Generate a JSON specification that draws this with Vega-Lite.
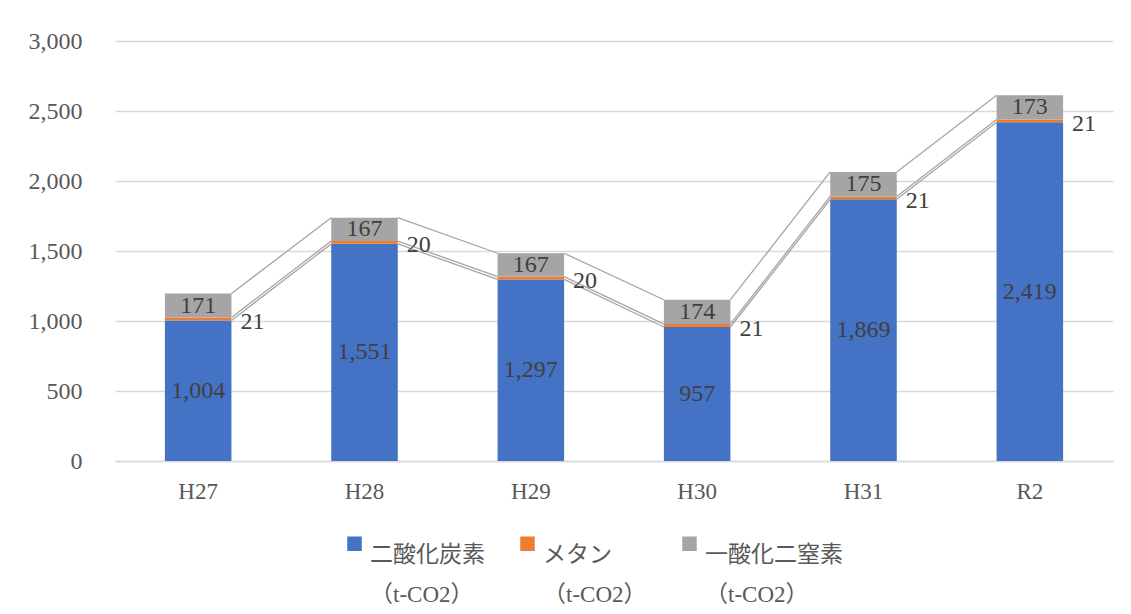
{
  "$schema": "https://vega.github.io/schema/vega-lite/v6.json",
  "autosize": {"type": "none"},
  "width": 998,
  "height": 420,
  "padding": {"left": 115, "top": 41, "right": 18, "bottom": 153},
  "background": "#ffffff",
  "config": {
    "font": "Liberation Serif, Noto Sans CJK JP, serif",
    "view": {"stroke": null},
    "style": {"guide-label": {"lineHeight": 40}}
  },
  "datasets": {
    "gas": [
      {"year": "H27", "gas": "二酸化炭素（t-CO2）", "ord": 1, "value": 1004},
      {"year": "H27", "gas": "メタン（t-CO2）", "ord": 2, "value": 21},
      {"year": "H27", "gas": "一酸化二窒素（t-CO2）", "ord": 3, "value": 171},
      {"year": "H28", "gas": "二酸化炭素（t-CO2）", "ord": 1, "value": 1551},
      {"year": "H28", "gas": "メタン（t-CO2）", "ord": 2, "value": 20},
      {"year": "H28", "gas": "一酸化二窒素（t-CO2）", "ord": 3, "value": 167},
      {"year": "H29", "gas": "二酸化炭素（t-CO2）", "ord": 1, "value": 1297},
      {"year": "H29", "gas": "メタン（t-CO2）", "ord": 2, "value": 20},
      {"year": "H29", "gas": "一酸化二窒素（t-CO2）", "ord": 3, "value": 167},
      {"year": "H30", "gas": "二酸化炭素（t-CO2）", "ord": 1, "value": 957},
      {"year": "H30", "gas": "メタン（t-CO2）", "ord": 2, "value": 21},
      {"year": "H30", "gas": "一酸化二窒素（t-CO2）", "ord": 3, "value": 174},
      {"year": "H31", "gas": "二酸化炭素（t-CO2）", "ord": 1, "value": 1869},
      {"year": "H31", "gas": "メタン（t-CO2）", "ord": 2, "value": 21},
      {"year": "H31", "gas": "一酸化二窒素（t-CO2）", "ord": 3, "value": 175},
      {"year": "R2", "gas": "二酸化炭素（t-CO2）", "ord": 1, "value": 2419},
      {"year": "R2", "gas": "メタン（t-CO2）", "ord": 2, "value": 21},
      {"year": "R2", "gas": "一酸化二窒素（t-CO2）", "ord": 3, "value": 173}
    ],
    "lines": [
      {"from": "H27", "to": "H28", "s": "a", "y1": 1004, "y2": 1551},
      {"from": "H28", "to": "H29", "s": "a", "y1": 1551, "y2": 1297},
      {"from": "H29", "to": "H30", "s": "a", "y1": 1297, "y2": 957},
      {"from": "H30", "to": "H31", "s": "a", "y1": 957, "y2": 1869},
      {"from": "H31", "to": "R2", "s": "a", "y1": 1869, "y2": 2419},
      {"from": "H27", "to": "H28", "s": "b", "y1": 1025, "y2": 1571},
      {"from": "H28", "to": "H29", "s": "b", "y1": 1571, "y2": 1317},
      {"from": "H29", "to": "H30", "s": "b", "y1": 1317, "y2": 978},
      {"from": "H30", "to": "H31", "s": "b", "y1": 978, "y2": 1890},
      {"from": "H31", "to": "R2", "s": "b", "y1": 1890, "y2": 2440},
      {"from": "H27", "to": "H28", "s": "c", "y1": 1196, "y2": 1738},
      {"from": "H28", "to": "H29", "s": "c", "y1": 1738, "y2": 1484},
      {"from": "H29", "to": "H30", "s": "c", "y1": 1484, "y2": 1152},
      {"from": "H30", "to": "H31", "s": "c", "y1": 1152, "y2": 2065},
      {"from": "H31", "to": "R2", "s": "c", "y1": 2065, "y2": 2613}
    ]
  },
  "resolve": {"scale": {"x": "shared", "y": "shared"}},
  "layer": [
    {
      "data": {"name": "gas"},
      "mark": {"type": "bar"},
      "encoding": {
        "x": {
          "field": "year", "type": "nominal",
          "scale": {"domain": ["H27", "H28", "H29", "H30", "H31", "R2"], "paddingInner": 0.6, "paddingOuter": 0.3},
          "axis": {"title": null, "labelAngle": 0, "ticks": false, "labelPadding": 19, "labelFontSize": 23, "labelColor": "#595959", "domainColor": "#D9D9D9", "domainWidth": 1.3}
        },
        "y": {
          "aggregate": "sum", "field": "value", "type": "quantitative", "stack": "zero",
          "scale": {"domain": [0, 3000]},
          "axis": {"title": null, "values": [0, 500, 1000, 1500, 2000, 2500, 3000], "format": ",d", "ticks": false, "domain": false, "labelPadding": 33, "labelFontSize": 24, "labelColor": "#595959", "gridColor": "#D9D9D9", "gridWidth": 1.3}
        },
        "color": {
          "field": "gas", "type": "nominal",
          "scale": {"domain": ["二酸化炭素（t-CO2）", "メタン（t-CO2）", "一酸化二窒素（t-CO2）"], "range": ["#4472C4", "#ED7D31", "#A5A5A5"]},
          "legend": {
            "title": null, "orient": "none", "direction": "horizontal", "legendX": 228, "legendY": 491,
            "symbolType": "square", "symbolSize": 210, "symbolStrokeWidth": 0, "symbolOffset": 0,
            "labelFontSize": 23, "labelColor": "#595959", "labelLimit": 300, "columnPadding": 31, "labelOffset": 4,
            "labelBaseline": "top",
            "labelExpr": "[split(datum.label, '（')[0], '（' + split(datum.label, '（')[1]]"
          }
        },
        "order": {"field": "ord", "type": "quantitative"}
      }
    },
    {
      "data": {"name": "lines"},
      "mark": {"type": "rule", "color": "#A5A5A5", "strokeWidth": 1.3},
      "encoding": {
        "x": {"field": "from", "type": "nominal", "bandPosition": 1},
        "x2": {"field": "to", "bandPosition": 0},
        "y": {"field": "y1", "type": "quantitative"},
        "y2": {"field": "y2"},
        "detail": {"field": "s"}
      }
    },
    {
      "data": {"name": "gas"},
      "transform": [
        {"stack": "value", "groupby": ["year"], "sort": [{"field": "ord"}], "as": ["v0", "v1"]},
        {"calculate": "(datum.v0 + datum.v1) / 2", "as": "mid"},
        {"filter": "datum.ord != 2"}
      ],
      "mark": {"type": "text", "fontSize": 24, "color": "#404040", "baseline": "middle"},
      "encoding": {
        "x": {"field": "year", "type": "nominal"},
        "y": {"field": "mid", "type": "quantitative"},
        "text": {"field": "value", "type": "quantitative", "format": ",d"}
      }
    },
    {
      "data": {"name": "gas"},
      "transform": [
        {"stack": "value", "groupby": ["year"], "sort": [{"field": "ord"}], "as": ["v0", "v1"]},
        {"calculate": "(datum.v0 + datum.v1) / 2", "as": "mid"},
        {"filter": "datum.ord == 2"}
      ],
      "mark": {"type": "text", "fontSize": 24, "color": "#404040", "baseline": "middle", "align": "left", "dx": 9, "dy": 3},
      "encoding": {
        "x": {"field": "year", "type": "nominal", "bandPosition": 1},
        "y": {"field": "mid", "type": "quantitative"},
        "text": {"field": "value", "type": "quantitative", "format": ",d"}
      }
    }
  ]
}
